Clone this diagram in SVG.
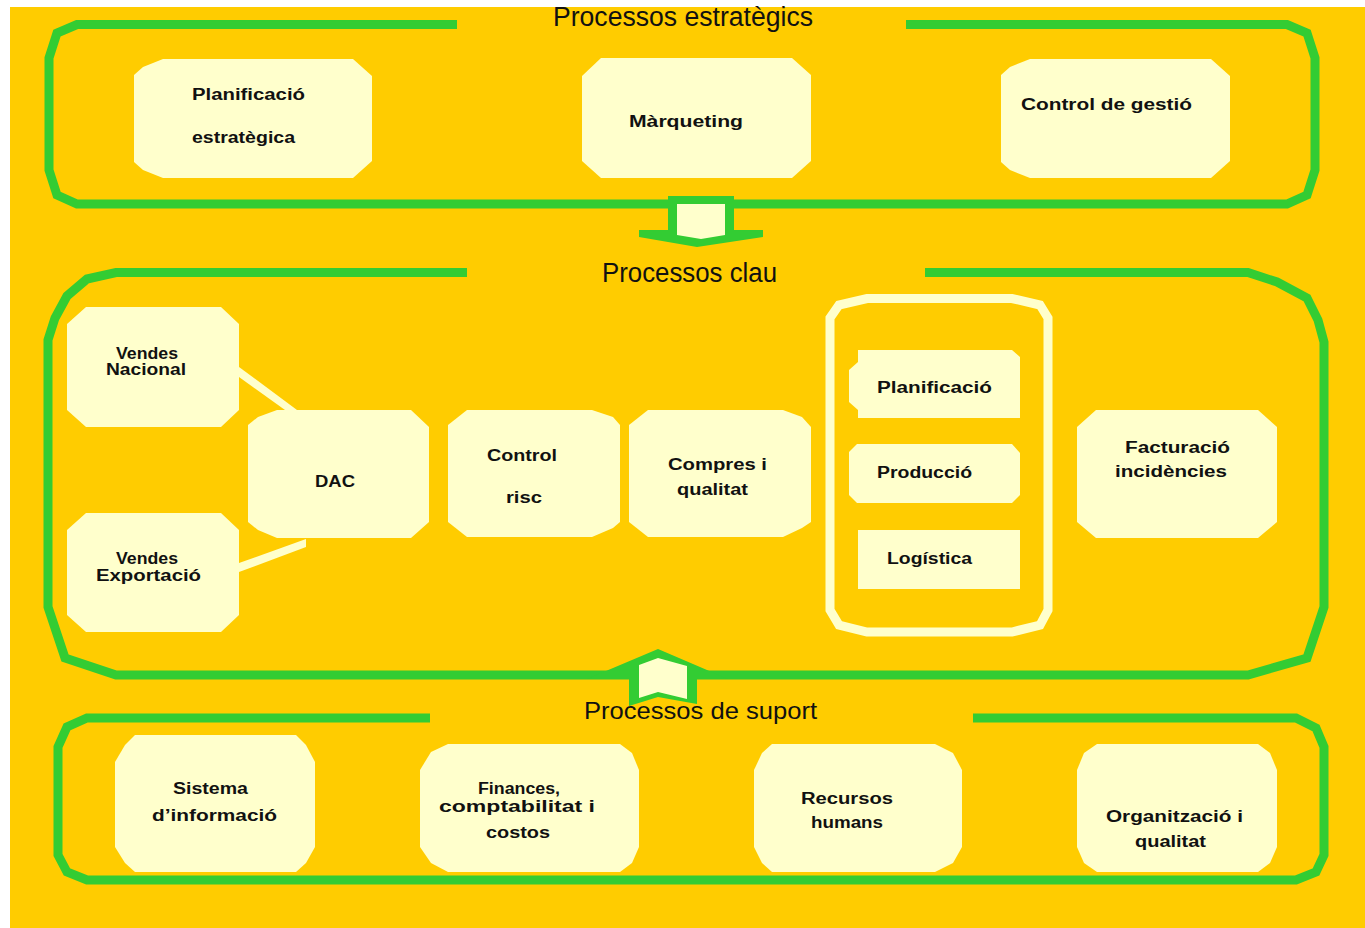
<svg xmlns="http://www.w3.org/2000/svg" width="1365" height="928" viewBox="0 0 1365 928">
<style>
.frame{fill:none;stroke:#33CC33;stroke-width:9;stroke-linejoin:miter}
.box{fill:#FFFFCC}
.title{font-family:"Liberation Sans",Arial,sans-serif;font-size:27px;fill:#111}
.lbl{font-family:"Liberation Sans",Arial,sans-serif;font-size:16px;font-weight:bold;fill:#111}
.grp{fill:none;stroke:#FFFFCC;stroke-width:9}
</style>
<rect x="0" y="0" width="1365" height="928" fill="#FFFFFF"/>
<rect x="10" y="7" width="1355" height="921" fill="#FFCC00"/>

<g id="frame-estrategics">
<path class="frame" d="M457,24.5 L77,24.5 L57,33 L49,58 L49,170 L57,195 L77,204 L1287,204 L1307,195 L1315,170 L1315,58 L1307,33 L1287,24.5 L906,24.5"/>
<text class="title" x="553" y="26" textLength="260" lengthAdjust="spacingAndGlyphs">Processos estratègics</text>
</g>
<g id="frame-clau">
<path class="frame" d="M467,272.5 L116,272.5 L87,279 L67,296 L55,318 L48,340 L48,607 L65,658 L116,675 L1248,675 L1307,658 L1324,607 L1324,342 L1318,320 L1307,298 L1277,282 L1248,272.5 L925,272.5"/>
<text class="title" x="602" y="282" textLength="175" lengthAdjust="spacingAndGlyphs">Processos clau</text>
</g>
<g id="frame-suport">
<path class="frame" d="M430,718 L87,718 L67,727 L58,747 L58,855 L67,872 L87,880 L1296,880 L1316,872 L1324,855 L1324,747 L1316,728 L1296,718 L973,718"/>
<text class="title" x="584" y="719" style="font-size:24px" textLength="233" lengthAdjust="spacingAndGlyphs">Processos de suport</text>
</g>

<g id="connectors">
<polygon fill="#33CC33" points="668,196 734,196 734,230 763,230 763,237 697,247 639,237 639,230 668,230"/>
<polygon fill="#FFFFCC" points="677,204 725,204 725,235 701,239 677,235"/>
<polygon fill="#33CC33" points="587,679 658,649 728,679 697,679 697,704 658,697 629,706 629,679"/>
<polygon fill="#FFFFCC" points="639,665 658,658 687,666 687,699 658,692 639,698"/>
<polygon fill="#FFFFCC" points="239,367 297,410 285,410 239,377"/>
<polygon fill="#FFFFCC" points="239,563 306,539 306,547 239,572"/>
</g>

<g id="planificacio-estrategica">
<polygon class="box" points="163,59 353,59 372,76 372,161 353,178 163,178 143,170 134,162 134,75 143,67"/>
<text class="lbl" x="192" y="100" textLength="113" lengthAdjust="spacingAndGlyphs">Planificació</text>
<text class="lbl" x="192" y="143" textLength="103" lengthAdjust="spacingAndGlyphs">estratègica</text>
</g>
<g id="marqueting">
<polygon class="box" points="601,58 792,58 811,75 811,161 792,178 601,178 582,161 582,76"/>
<text class="lbl" x="629" y="127" textLength="114" lengthAdjust="spacingAndGlyphs">Màrqueting</text>
</g>
<g id="control-gestio">
<polygon class="box" points="1030,59 1211,59 1230,76 1230,161 1211,178 1030,178 1010,170 1001,162 1001,75 1010,67"/>
<text class="lbl" x="1021" y="110" textLength="171" lengthAdjust="spacingAndGlyphs">Control de gestió</text>
</g>

<g id="vendes-nacional">
<polygon class="box" points="86,307 221,307 239,324 239,410 221,427 86,427 67,410 67,324"/>
<text class="lbl" x="116" y="359" textLength="62" lengthAdjust="spacingAndGlyphs">Vendes</text>
<text class="lbl" x="106" y="375" textLength="80" lengthAdjust="spacingAndGlyphs">Nacional</text>
</g>
<g id="vendes-exportacio">
<polygon class="box" points="86,513 221,513 239,530 239,615 221,632 86,632 67,615 67,530"/>
<text class="lbl" x="116" y="564" textLength="62" lengthAdjust="spacingAndGlyphs">Vendes</text>
<text class="lbl" x="96" y="581" textLength="105" lengthAdjust="spacingAndGlyphs">Exportació</text>
</g>
<g id="dac">
<polygon class="box" points="277,410 411,410 429,427 429,522 411,538 277,538 258,530 248,522 248,425 258,417"/>
<text class="lbl" x="315" y="487" textLength="40" lengthAdjust="spacingAndGlyphs">DAC</text>
</g>
<g id="control-risc">
<polygon class="box" points="467,410 592,410 613,417 620,425 620,522 613,528 592,537 467,537 448,522 448,425"/>
<text class="lbl" x="487" y="461" textLength="70" lengthAdjust="spacingAndGlyphs">Control</text>
<text class="lbl" x="506" y="503" textLength="36" lengthAdjust="spacingAndGlyphs">risc</text>
</g>
<g id="compres-qualitat">
<polygon class="box" points="648,410 783,410 802,417 811,427 811,522 802,528 783,537 648,537 629,522 629,425"/>
<text class="lbl" x="668" y="470" textLength="99" lengthAdjust="spacingAndGlyphs">Compres i</text>
<text class="lbl" x="677" y="495" textLength="71" lengthAdjust="spacingAndGlyphs">qualitat</text>
</g>
<g id="grup-produccio">
<path class="grp" d="M867,298.5 L1012,298.5 L1040,305 L1048,318 L1048,610 L1040,625 L1012,632 L867,632 L839,625 L830,610 L830,318 L839,305 Z"/>
</g>
<g id="planificacio">
<polygon class="box" points="858,350 1012,350 1020,357 1020,418 858,418 858,410 849,402 849,370 858,362"/>
<text class="lbl" x="877" y="393" textLength="115" lengthAdjust="spacingAndGlyphs">Planificació</text>
</g>
<g id="produccio">
<polygon class="box" points="857,444 1012,444 1020,453 1020,495 1012,503 857,503 849,495 849,452"/>
<text class="lbl" x="877" y="478" textLength="95" lengthAdjust="spacingAndGlyphs">Producció</text>
</g>
<g id="logistica">
<rect class="box" x="858" y="530" width="162" height="59"/>
<text class="lbl" x="887" y="564" textLength="85" lengthAdjust="spacingAndGlyphs">Logística</text>
</g>
<g id="facturacio">
<polygon class="box" points="1096,410 1258,410 1277,427 1277,522 1258,538 1096,538 1077,522 1077,427"/>
<text class="lbl" x="1125" y="453" textLength="105" lengthAdjust="spacingAndGlyphs">Facturació</text>
<text class="lbl" x="1115" y="477" textLength="112" lengthAdjust="spacingAndGlyphs">incidències</text>
</g>

<g id="sistema-informacio">
<polygon class="box" points="135,735 296,735 306,745 315,762 315,847 306,863 296,872 135,872 125,863 115,847 115,762 125,745"/>
<text class="lbl" x="173" y="794" textLength="75" lengthAdjust="spacingAndGlyphs">Sistema</text>
<text class="lbl" x="152" y="821" textLength="125" lengthAdjust="spacingAndGlyphs">d’informació</text>
</g>
<g id="finances">
<polygon class="box" points="448,744 620,744 632,753 639,770 639,847 632,863 620,872 448,872 431,863 420,847 420,770 431,752"/>
<text class="lbl" x="478" y="794" textLength="82" lengthAdjust="spacingAndGlyphs">Finances,</text>
<text class="lbl" x="439" y="812" textLength="156" lengthAdjust="spacingAndGlyphs">comptabilitat i</text>
<text class="lbl" x="486" y="838" textLength="64" lengthAdjust="spacingAndGlyphs">costos</text>
</g>
<g id="recursos-humans">
<polygon class="box" points="772,744 935,744 953,753 962,770 962,847 953,863 935,872 772,872 762,863 754,847 754,770 762,753"/>
<text class="lbl" x="801" y="804" textLength="92" lengthAdjust="spacingAndGlyphs">Recursos</text>
<text class="lbl" x="811" y="828" textLength="72" lengthAdjust="spacingAndGlyphs">humans</text>
</g>
<g id="organitzacio-qualitat">
<polygon class="box" points="1097,744 1258,744 1270,753 1277,770 1277,847 1270,863 1258,872 1097,872 1084,863 1077,847 1077,770 1084,753"/>
<text class="lbl" x="1106" y="822" textLength="137" lengthAdjust="spacingAndGlyphs">Organització i</text>
<text class="lbl" x="1135" y="847" textLength="71" lengthAdjust="spacingAndGlyphs">qualitat</text>
</g>
</svg>
